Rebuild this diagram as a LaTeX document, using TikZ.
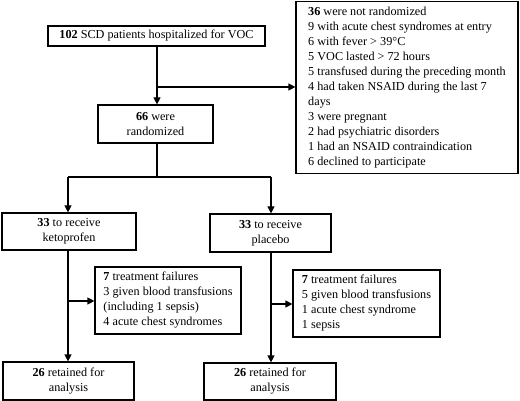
\documentclass[tikz,border=0pt]{standalone}
\usepackage{fontspec}
\setmainfont{Liberation Serif}
\usetikzlibrary{arrows.meta}
\begin{document}
\begin{tikzpicture}[x=1pt,y=-1pt,
  every node/.style={font=\fontsize{12.2}{15}\selectfont},
  box/.style={draw, line width=1.2pt, inner sep=0pt, align=center},
  lbox/.style={draw, line width=1.2pt, inner sep=0pt, align=left},
  line/.style={line width=1.2pt},
  arr/.style={line width=1.2pt, -{Triangle[length=7pt,width=7pt]}}]
\useasboundingbox (0,0) rectangle (520,401);
\node[box, minimum width=217pt, minimum height=20pt] (n102) at (156.5,36) {\textbf{102} SCD patients hospitalized for VOC};
\node[box, minimum width=115pt, minimum height=38pt] (n66) at (155.5,124) {\textbf{66} were\\randomized};
\node[lbox, minimum width=222pt, minimum height=172pt] (n36) at (407,87.5) {\textbf{36} were not randomized\\9 with acute chest syndromes at entry\\6 with fever > 39°C\\5 VOC lasted > 72 hours\\5 transfused during the preceding month\\4 had taken NSAID during the last 7\\days\\3 were pregnant\\2 had psychiatric disorders\\1 had an NSAID contraindication\\6 declined to participate};
\node[box, minimum width=134pt, minimum height=37pt] (keto) at (69,231.5) {\textbf{33} to receive\\ketoprofen};
\node[box, minimum width=121pt, minimum height=38pt] (plac) at (270.5,233) {\textbf{33} to receive\\placebo};
\node[lbox, minimum width=146pt, minimum height=67pt] (f1) at (168,300.5) {\textbf{7} treatment failures\\3 given blood transfusions\\(including 1 sepsis)\\4 acute chest syndromes};
\node[lbox, minimum width=147pt, minimum height=67pt] (f2) at (366.5,303.5) {\textbf{7} treatment failures\\5 given blood transfusions\\1 acute chest syndrome\\1 sepsis};
\node[box, minimum width=131pt, minimum height=38pt] (r1) at (68.5,381) {\textbf{26} retained for\\analysis};
\node[box, minimum width=132pt, minimum height=37pt] (r2) at (270,381.5) {\textbf{26} retained for\\analysis};
\coordinate (j1) at (157,87);
\draw[arr] (n102.south -| j1) -- (n66.north -| j1);
\draw[arr] (j1) -- (n36.west |- j1);
\coordinate (j2) at (157,177);
\coordinate (kl) at (68,177);
\coordinate (pl) at (271,177);
\draw[line] (n66.south -| j2) -- (j2);
\draw[line] (kl) -- (pl);
\draw[arr] (kl) -- (keto.north -| kl);
\draw[arr] (pl) -- (plac.north -| pl);
\draw[arr] (keto.south -| kl) -- (r1.north -| kl);
\draw[arr] (plac.south -| pl) -- (r2.north -| pl);
\coordinate (k3) at (68,301);
\coordinate (p3) at (271,304);
\draw[arr] (k3) -- (f1.west |- k3);
\draw[arr] (p3) -- (f2.west |- p3);
\end{tikzpicture}
\end{document}
